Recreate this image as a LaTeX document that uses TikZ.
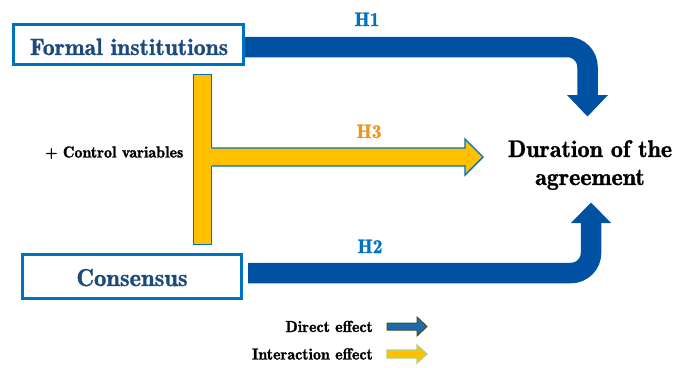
\documentclass[tikz,border=0pt]{standalone}
\usepackage{fontspec}
\newfontfamily\demi{Latin Modern Roman Demi}[FakeBold=1.2]
\definecolor{boxblue}{RGB}{0,112,192}
\definecolor{navy}{RGB}{28,74,124}
\definecolor{bandblue}{RGB}{0,81,162}
\definecolor{ayellow}{RGB}{255,192,0}
\definecolor{horange}{RGB}{236,150,30}
\definecolor{dgreen}{RGB}{56,87,35}
\definecolor{lgreen}{RGB}{169,209,142}
\definecolor{legblue}{RGB}{31,105,175}
\tikzset{
  varbox/.style={draw=boxblue, line width=3pt, fill=white, inner sep=0pt},
  boxtext/.style={text=navy, font=\fontsize{24.5}{28}\selectfont\demi, inner sep=0pt, anchor=base},
  hlabel/.style={font=\fontsize{19.5}{22}\selectfont\demi, inner sep=0pt, anchor=base},
  band/.style={draw=bandblue, line width=20.5pt, rounded corners=20pt},
  head/.style={fill=bandblue, draw=none},
  plain/.style={font=\fontsize{24}{28}\selectfont\demi, inner sep=0pt, anchor=base},
  legtext/.style={font=\fontsize{16}{18}\selectfont\demi, inner sep=0pt, anchor=base east},
}
\begin{document}
\begin{tikzpicture}[x=1pt,y=-1pt]
\useasboundingbox (0,0) rectangle (685,367);
% yellow interaction bar
\node[draw=boxblue, line width=1.4pt, fill=ayellow, minimum width=18pt, minimum height=170pt, inner sep=0pt] (bar) at (202.5,159.5) {};
% H3 arrow
\coordinate (h3s) at (211.5,157);
\coordinate (h3t) at (483,157);
\fill[ayellow] (209,148) -- (465,148) -- (465,139) -- (483,157) -- (465,175) -- (465,166) -- (209,166) -- cycle;
\draw[boxblue, line width=1.4pt, line join=miter] (211.5,148) -- (465,148) -- (465,139) -- (h3t) -- (465,175) -- (465,166) -- (211.5,166);
% boxes
\node[varbox, minimum width=230pt, minimum height=40.5pt] (fi) at (128.5,44.5) {};
\node[boxtext, font=\fontsize{23.7}{28}\selectfont\demi] (fit) at (129,55) {Formal institutions};
\node[varbox, minimum width=219pt, minimum height=44pt] (cs) at (132,276.5) {};
\node[boxtext] (cst) at (132,286) {Consensus};
% target
\node[plain] (dur1) at (590,157) {Duration of the};
\node[plain] (dur2) at (590,185) {agreement};
% H1 band
\coordinate (h1a) at (245,47);
\coordinate (h1b) at (587.5,47);
\coordinate (h1c) at (587.5,95.5);
\draw[band] (h1a) -- (h1b) -- (h1c);
\fill[head] (567,95) -- (608,95) -- (587.5,116.5) -- cycle;
% H2 band
\coordinate (h2a) at (248,273);
\coordinate (h2b) at (591,273);
\coordinate (h2c) at (591,222.5);
\draw[band] (h2a) -- (h2b) -- (h2c);
\fill[head] (571,223) -- (611,223) -- (591,202.5) -- cycle;
% labels
\node[hlabel, text=boxblue] (l1) at (367,26) {H1};
\node[hlabel, text=boxblue] (l2) at (370,253) {H2};
\node[hlabel, text=horange] (l3) at (369,138) {H3};
\node[font=\fontsize{16}{18}\selectfont\demi, inner sep=0pt, anchor=base east] (ctrl) at (183.5,157.5) {+ Control variables};
% legend
\node[legtext] (ld) at (373,332) {Direct effect};
\node[legtext] (li) at (373,359.5) {Interaction effect};
\draw[dgreen, fill=legblue, line width=1pt, line join=miter] (387,323) -- (417,323) -- (417,317) -- (427,326.5) -- (417,336) -- (417,330) -- (387,330) -- cycle;
\draw[lgreen, fill=ayellow, line width=1.2pt, line join=miter] (387,350) -- (417,350) -- (417,345) -- (427,354) -- (417,363) -- (417,358) -- (387,358) -- cycle;
\end{tikzpicture}
\end{document}
